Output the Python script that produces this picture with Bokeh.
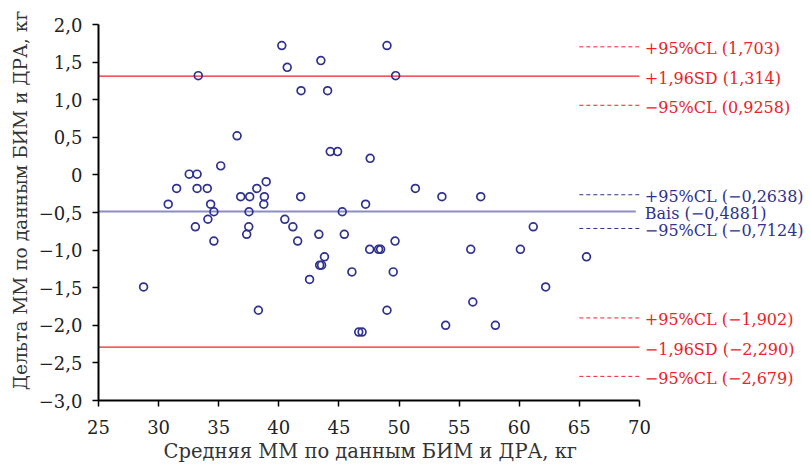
from bokeh.plotting import figure
from bokeh.models import Range1d, FixedTicker
from bokeh.core.properties import value
from bokeh.embed import file_html
from bokeh.resources import INLINE

# ---- data: mean of the two methods (x) and their difference (y), kg ----
mean_mm = [28.75, 30.8, 31.5, 32.55, 33.2, 33.2, 33.3, 33.06, 34.05, 34.1,
           34.33, 34.6, 34.6, 35.17, 36.53, 36.83, 37.58, 37.52, 37.5, 37.33,
           38.17, 38.3, 38.8, 38.75, 38.95, 40.25, 40.7, 40.5, 41.17, 41.85,
           41.82, 41.57, 42.56, 43.33, 43.5, 43.8, 43.4, 43.56, 44.06, 44.28,
           44.89, 45.28, 45.45, 46.08, 46.65, 46.93, 47.22, 47.6, 47.56, 48.3,
           48.47, 49.0, 49.72, 49.0, 49.52, 49.67, 51.36, 53.57, 53.88, 55.97,
           56.14, 56.8, 58.02, 60.1, 61.17, 62.2, 65.6]
delta_mm = [-1.49, -0.39, -0.18, 0.01, 0.01, -0.18, 1.32, -0.69, -0.18, -0.59,
            -0.39, -0.49, -0.88, 0.12, 0.52, -0.29, -0.29, -0.49, -0.69, -0.79,
            -0.18, -1.80, -0.29, -0.39, -0.09, 1.72, 1.43, -0.59, -0.69, 1.12,
            -0.29, -0.88, -1.39, -0.79, 1.52, -1.09, -1.20, -1.20, 1.12, 0.31,
            0.31, -0.49, -0.79, -1.29, -2.09, -2.09, -0.39, 0.22, -0.99, -0.99,
            -0.99, 1.72, 1.32, -1.80, -1.29, -0.88, -0.18, -0.29, -2.00, -0.99,
            -1.69, -0.29, -2.00, -0.99, -0.69, -1.49, -1.09]

bias = -0.4881
bias_ci = [-0.2638, -0.7124]
loa = [1.314, -2.290]
loa_ci = [1.703, 0.9258, -1.902, -2.679]

bias_labels = ["+95%CL (\u22120,2638)", "Bais (\u22120,4881)", "\u221295%CL (\u22120,7124)"]
bias_label_values = [-0.2638, -0.4881, -0.7124]
loa_labels = ["+95%CL (1,703)", "+1,96SD (1,314)", "\u221295%CL (0,9258)",
              "+95%CL (\u22121,902)", "\u22121,96SD (\u22122,290)", "\u221295%CL (\u22122,679)"]
loa_label_values = [1.703, 1.314, 0.9258, -1.902, -2.290, -2.679]

x_ticks = [25, 30, 35, 40, 45, 50, 55, 60, 65, 70]
y_ticks = [-3.0, -2.5, -2.0, -1.5, -1.0, -0.5, 0.0, 0.5, 1.0, 1.5, 2.0]
y_tick_labels = ["\u22123,0", "\u22122,5", "\u22122,0", "\u22121,5", "\u22121,0", "\u22120,5",
                 "0", "0,5", "1,0", "1,5", "2,0"]

x_title = "Средняя ММ по данным БИМ и ДРА, кг"
y_title = "Дельта ММ по данным БИМ и ДРА, кг"

RED = "#EC2228"
NAVY = "#2E3192"
BIAS_LINE = "#8C8CC6"
FONT = "DejaVu Serif"

x_min, x_max = x_ticks[0], x_ticks[-1]
ci_start = x_ticks[-2]

PX_X = 12.02   # pixels per kg on x
PX_Y = 75.2    # pixels per kg on y

p = figure(width=810, height=470, output_backend="svg", toolbar_location=None,
           x_range=Range1d(25, 25 + 712 / PX_X),
           y_range=Range1d(-3.0, -3.0 + 400 / PX_Y))
p.min_border_left = 98
p.min_border_right = 0
p.min_border_top = 0
p.min_border_bottom = 70
p.outline_line_color = None
p.grid.visible = False
p.background_fill_color = "white"
p.border_fill_color = "white"

# limits of agreement (solid red) and bias (lavender)
p.segment(x0=[x_min] * len(loa), x1=[x_max] * len(loa), y0=loa, y1=loa,
          line_color=RED, line_width=1.2)
p.segment(x0=[x_min], x1=[x_max - 0.3], y0=[bias], y1=[bias],
          line_color=BIAS_LINE, line_width=2)

# confidence limits (short dashed)
p.segment(x0=[ci_start] * len(loa_ci), x1=[x_max] * len(loa_ci), y0=loa_ci, y1=loa_ci,
          line_color=RED, line_width=1, line_dash="4 3")
p.segment(x0=[ci_start] * len(bias_ci), x1=[x_max] * len(bias_ci), y0=bias_ci, y1=bias_ci,
          line_color=NAVY, line_width=1, line_dash="4 3")

# points
p.scatter(mean_mm, delta_mm, size=7.8, marker="circle", fill_color=None,
          line_color=NAVY, line_width=1.7)

# right-hand labels
lx = x_max + 0.45
p.text(x=[lx] * len(loa_labels), y=loa_label_values, text=loa_labels,
       text_color=RED, text_font=value(FONT), text_font_size=value("16px"),
       text_baseline="middle", text_align="left", y_offset=2)
p.text(x=[lx] * len(bias_labels), y=bias_label_values, text=bias_labels,
       text_color=NAVY, text_font=value(FONT), text_font_size=value("16px"),
       text_baseline="middle", text_align="left", y_offset=2)

# axes
for ax in (p.xaxis[0], p.yaxis[0]):
    ax.axis_line_color = "black"
    ax.axis_line_width = 2
    ax.major_tick_line_color = "black"
    ax.major_tick_line_width = 1.5
    ax.major_tick_out = 6
    ax.major_tick_in = 0
    ax.minor_tick_line_color = None
    ax.major_label_text_font = FONT
    ax.major_label_text_font_size = "18px"
    ax.major_label_text_color = "#222222"
    ax.axis_label_text_font = FONT
    ax.axis_label_text_font_style = "normal"
    ax.axis_label_text_color = "#333333"

p.xaxis.ticker = FixedTicker(ticks=x_ticks)
p.xaxis.bounds = (x_ticks[0], x_ticks[-1])
p.xaxis.major_label_standoff = 13

# x title: placed below the axis, shifted so it sits centred under 25..70
p.title_location = "below"
p.title.text = x_title
p.title.align = "left"
p.title.offset = 65
p.title.text_font = FONT
p.title.text_font_style = "normal"
p.title.text_font_size = "19.5px"
p.title.text_color = "#333333"
p.title.standoff = 3

p.yaxis.ticker = FixedTicker(ticks=y_ticks)
p.yaxis.bounds = (y_ticks[0], y_ticks[-1])
p.yaxis.major_label_overrides = {t: s for t, s in zip(y_ticks, y_tick_labels)}
p.yaxis.major_label_standoff = 10
p.yaxis.axis_label_standoff = 5
p.yaxis.axis_label_text_font_size = "18.6px"
p.yaxis.axis_label = y_title

open("out.html", "w").write(file_html(p, INLINE))
